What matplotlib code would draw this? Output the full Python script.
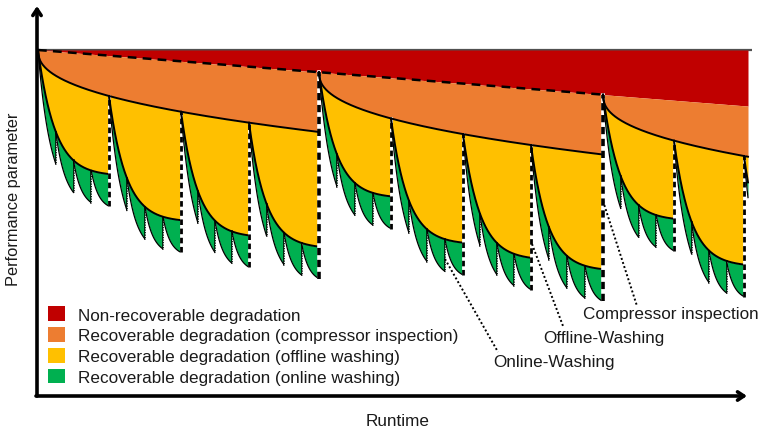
import numpy as np
import matplotlib.pyplot as plt
from matplotlib.patches import Patch

plt.rcParams['font.family'] = ['Liberation Sans', 'DejaVu Sans']

# schematic values (runtime / performance units)
initial_level = 346
nr_slope = 0.079
compressor_times = [0, 281, 565]
offline_times = [0, 71, 143, 211, 281, 353, 425, 493, 565, 636, 706, 776]
end_time = 710
online_per_offline = 4
comp_amp, comp_ref, comp_exp = 46, 71, 0.42
offline_amp, offline_tau = 126, 17
online_amp, online_tau = 32, 7

legend_labels = ['Non-recoverable degradation',
                 'Recoverable degradation (compressor inspection)',
                 'Recoverable degradation (offline washing)',
                 'Recoverable degradation (online washing)']
colors = ['#C00000', '#ED7D31', '#FFC000', '#00B050']
text_c = '#1a1a1a'


def nr(x):
    return initial_level - nr_slope * np.asarray(x, dtype=float)


def last_before(times, x):
    return max(t for t in times if t <= x)


def orange(x, xc):
    return nr(xc) - comp_amp * (np.clip(np.asarray(x, dtype=float) - xc, 0, None) / comp_ref) ** comp_exp


def yellow(x, xo):
    xc = last_before(compressor_times, xo)
    return orange(xo, xc) - offline_amp * (1 - np.exp(-(np.asarray(x, dtype=float) - xo) / offline_tau))


def wash(t):
    return online_amp * (1 - np.exp(-t / online_tau)) / (1 - np.exp(-17.5 / online_tau))


fig = plt.figure(figsize=(7.61, 4.31), dpi=100)
ax = fig.add_axes([37 / 761, 34 / 431, (752 - 37) / 761, 390 / 431])
ax.set_xlim(-1, 714)
ax.set_ylim(0, 390)
ax.axis('off')

# red band
xs = np.linspace(0, end_time, 600)
ax.fill_between(xs, nr(xs), initial_level, color=colors[0], lw=0)

# orange bands
cb = compressor_times + [end_time]
for a, b in zip(cb[:-1], cb[1:]):
    xs = np.linspace(a, b, 400)
    ax.fill_between(xs, orange(xs, a), nr(xs), color=colors[1], lw=0)

# yellow + green
ob = offline_times
for a, b in zip(ob[:-1], ob[1:]):
    if a >= end_time:
        break
    xc = last_before(compressor_times, a)
    bc = min(b, end_time)
    xs = np.linspace(a, bc, 300)
    ax.fill_between(xs, yellow(xs, a), orange(xs, xc), color=colors[2], lw=0)
    tooth = (b - a) / online_per_offline
    for k in range(online_per_offline):
        ta = a + k * tooth
        if ta >= end_time:
            break
        tb = min(ta + tooth, end_time)
        xt = np.linspace(ta, tb, 120)
        yv = yellow(xt, a)
        gv = yv - wash(xt - ta)
        ax.fill_between(xt, gv, yv, color=colors[3], lw=0)
        ax.plot(xt, gv, color='k', lw=0.9)
        if k < online_per_offline - 1 and tb < end_time:
            ax.plot([tb, tb], [gv[-1], yv[-1]], color='k', lw=1.1)
            ax.plot([tb, tb], [gv[-1], yv[-1]], color='white', lw=0.6, dashes=(1.5, 1.5))
    ax.plot(xs, yellow(xs, a), color='k', lw=1.4)
    # wash line at the end of this offline interval
    if b < end_time:
        g_end = yellow(b, a) - wash(tooth)
        if b in compressor_times:
            top, lw = nr(b), 2.6
        else:
            top, lw = orange(b, xc), 2.0
        ax.plot([b, b], [g_end, top], color='white', lw=lw)
        ax.plot([b, b], [g_end, top], color='k', lw=lw, dashes=(2, 1.3))

# orange bottom lines
for a, b in zip(cb[:-1], cb[1:]):
    xs = np.linspace(a, b, 400)
    ax.plot(xs, orange(xs, a), color='k', lw=1.4)

# non-recoverable dashed line and initial level
xs = np.array([0, compressor_times[-1]])
ax.plot(xs, nr(xs), color='k', lw=1.8, dashes=(3.5, 2.5))
ax.plot([0, 713], [initial_level, initial_level], color='#505050', lw=1.6, zorder=0.5)

# axes arrows
arrow = dict(arrowstyle='->, head_length=0.45, head_width=0.3', lw=2.6, color='k',
             shrinkA=0, shrinkB=0)
ax.annotate('', xy=(-1, 390), xytext=(-1, 0), arrowprops=arrow, annotation_clip=False)
ax.annotate('', xy=(709, 0), xytext=(-2, 0), arrowprops=arrow, annotation_clip=False)

# annotations
ann_font = 12.3
ax.plot([407, 460], [137, 44], color='k', lw=1.4, ls=(0, (1, 1.2)))
ax.text(455, 34, 'Online-Washing', fontsize=ann_font, color=text_c, va='center')
ax.plot([494, 525], [152, 70], color='k', lw=1.4, ls=(0, (1, 1.2)))
ax.text(505, 58, 'Offline-Washing', fontsize=ann_font, color=text_c, va='center')
ax.plot([565, 599], [195, 90], color='k', lw=1.4, ls=(0, (1, 1.2)))
ax.text(545, 82, 'Compressor inspection', fontsize=ann_font, color=text_c, va='center')

# legend
handles = [Patch(facecolor=c, edgecolor='none') for c in colors]
leg = ax.legend(handles, legend_labels, loc='lower left', frameon=False,
                bbox_to_anchor=(11 / 715, 11 / 390), borderpad=0, borderaxespad=0,
                handlelength=1.0, handleheight=0.94, handletextpad=0.75,
                labelspacing=0.27, fontsize=ann_font)
for t in leg.get_texts():
    t.set_color(text_c)

fig.text(398 / 761, 1 - 422 / 431, 'Runtime', fontsize=ann_font, color=text_c,
         ha='center', va='center')
fig.text(14 / 761, 1 - 199 / 431, 'Performance parameter', fontsize=11.8,
         color=text_c, ha='center', va='center', rotation=90)

fig.savefig('out.png', dpi=100)
